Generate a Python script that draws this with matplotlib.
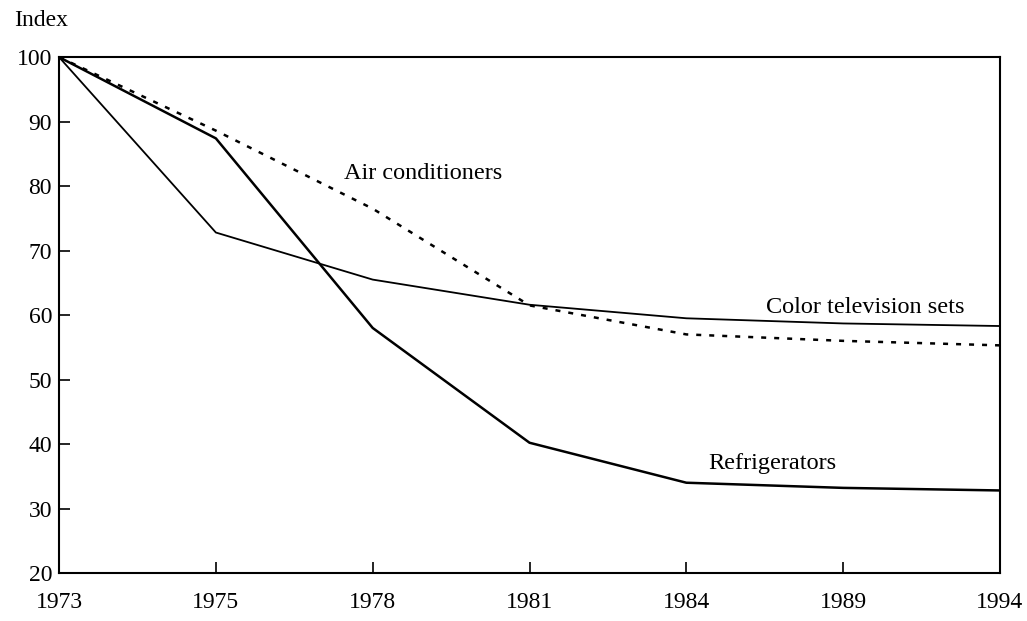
import numpy as np
import matplotlib
matplotlib.use('Agg')
import matplotlib.pyplot as plt

# datos
years = ['1973', '1975', '1978', '1981', '1984', '1989', '1994']
color_tv = [100, 72.8, 65.5, 61.6, 59.5, 58.7, 58.3]
refrigerators = [100, 87.4, 58.0, 40.2, 34.0, 33.2, 32.8]
air_cond = [100, 88.6, 76.5, 61.5, 57.0, 56.0, 55.3]
yticks = [20, 30, 40, 50, 60, 70, 80, 90, 100]

plt.rcParams['font.family'] = ['Liberation Serif', 'DejaVu Serif']

fig = plt.figure(figsize=(10.27, 6.21), dpi=100)
ax = fig.add_axes([0.0575, 0.0773, 0.9162, 0.8307])

x = np.arange(len(years))
ax.plot(x, color_tv, color='black', lw=1.3)
ax.plot(x, refrigerators, color='black', lw=1.8)
ax.plot(x, air_cond, color='black', lw=1.8, linestyle=(0, (2, 3.2)))

ax.set_xlim(0, len(years) - 1)
ax.set_ylim(20, 100)
ax.set_xticks(x)
ax.set_xticklabels(years)
ax.set_yticks(yticks)

ax.tick_params(axis='both', direction='in', length=8, width=1.2, labelsize=17)
ax.tick_params(axis='x', pad=14)
ax.tick_params(axis='y', pad=5)
for s in ax.spines.values():
    s.set_linewidth(1.5)

# etiquetas de las series
ax.text(1.82, 82, 'Air conditioners', fontsize=17.5, va='center', ha='left')
ax.text(4.51, 61.2, 'Color television sets', fontsize=17.5, va='center', ha='left')
ax.text(4.14, 37, 'Refrigerators', fontsize=17.5, va='center', ha='left')

fig.text(14 / 1027, 1 - 20 / 621, 'Index', fontsize=17, va='center', ha='left')

fig.savefig('out.png', dpi=100)
